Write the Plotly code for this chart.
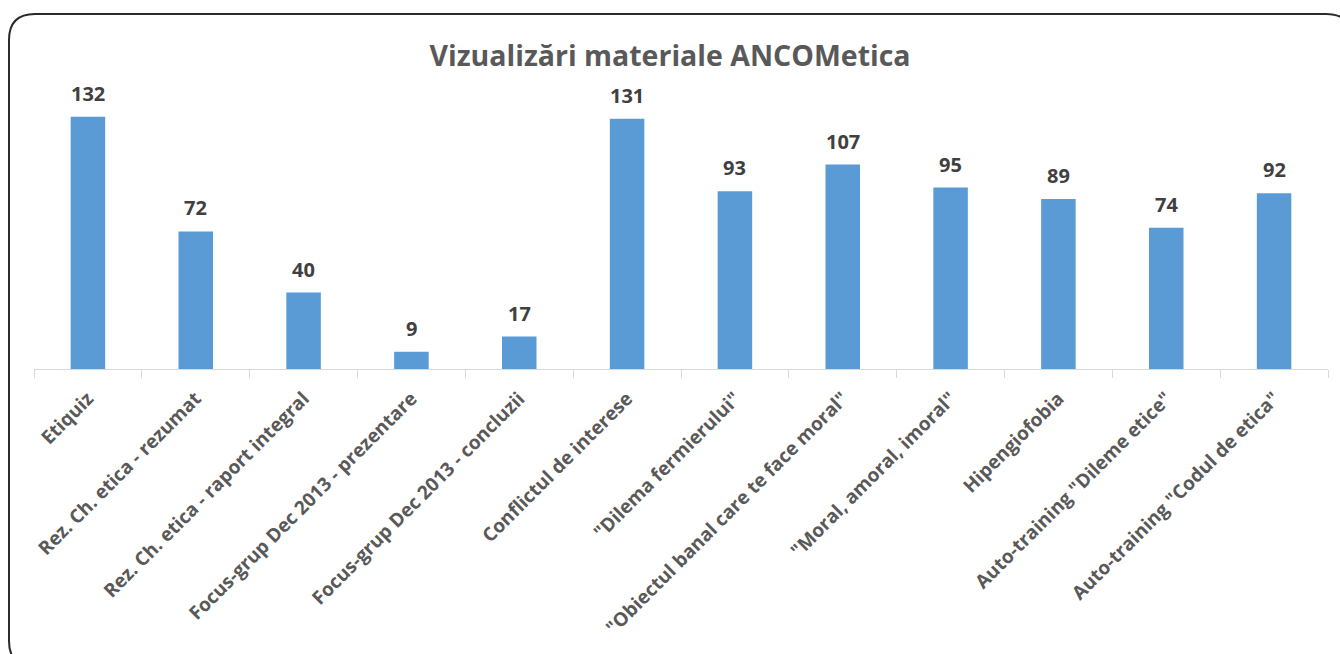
import plotly.graph_objects as go

categories = [
    "Etiquiz",
    "Rez. Ch. etica - rezumat",
    "Rez. Ch. etica - raport integral",
    "Focus-grup Dec 2013 - prezentare",
    "Focus-grup Dec 2013 - concluzii",
    "Conflictul de interese",
    "\"Dilema fermierului\"",
    "\"Obiectul banal care te face moral\"",
    "\"Moral, amoral, imoral\"",
    "Hipengiofobia",
    "Auto-training \"Dileme etice\"",
    "Auto-training \"Codul de etica\"",
]
views = [132, 72, 40, 9, 17, 131, 93, 107, 95, 89, 74, 92]

W, H = 1340, 654
ML, MR, MT, MB = 34, 12, 92, 285
YMAX = 145

fig = go.Figure(go.Bar(
    x=categories, y=views,
    marker=dict(color="#5B9BD5", line=dict(width=0)),
    width=0.32,
))

for c, v in zip(categories, views):
    fig.add_annotation(x=c, y=v, text=str(v), showarrow=False,
                       xanchor="center", yanchor="bottom", yshift=8,
                       font=dict(family="Open Sans", size=20, color="#404040", weight="bold"))

# rounded border (pixel -> paper coords)
pw, ph = W - ML - MR, H - MT - MB
def px(x): return (x - ML) / pw
def py(y): return (H - MB - y) / ph
x0, y0, x1, y1, r = 9, 14, 1352, 667, 26
path = (f"M {px(x0)} {py(y0 + r)} "
        f"Q {px(x0)} {py(y0)} {px(x0 + r)} {py(y0)} "
        f"L {px(x1 - r)} {py(y0)} "
        f"Q {px(x1)} {py(y0)} {px(x1)} {py(y0 + r)} "
        f"L {px(x1)} {py(y1 - r)} "
        f"Q {px(x1)} {py(y1)} {px(x1 - r)} {py(y1)} "
        f"L {px(x0 + r)} {py(y1)} "
        f"Q {px(x0)} {py(y1)} {px(x0)} {py(y1 - r)} Z")

fig.update_layout(
    width=W, height=H,
    margin=dict(l=ML, r=MR, t=MT, b=MB),
    paper_bgcolor="white", plot_bgcolor="white",
    title=dict(text="Vizualizări materiale ANCOMetica", x=0.5, xanchor="center",
               y=1 - 56 / H, yanchor="middle",
               font=dict(family="Open Sans", size=28.5, color="#595959", weight="bold")),
    showlegend=False,
    bargap=0.68,
    xaxis=dict(
        tickangle=-45,
        tickfont=dict(family="Open Sans", size=19, color="#595959", weight="bold"),
        ticklabelstandoff=10,
        showline=True, linecolor="#D9D9D9", linewidth=1,
        ticks="outside", tickson="boundaries", ticklen=8, tickcolor="#D9D9D9",
        showgrid=False, automargin=False,
    ),
    yaxis=dict(range=[0, YMAX], visible=False, showgrid=False),
    shapes=[dict(type="path", path=path, xref="paper", yref="paper",
                 line=dict(color="#2b2b2b", width=2), layer="above")],
)

fig.write_html("out.html", config={"displayModeBar": False},
               post_script="document.body.style.margin='0';")
